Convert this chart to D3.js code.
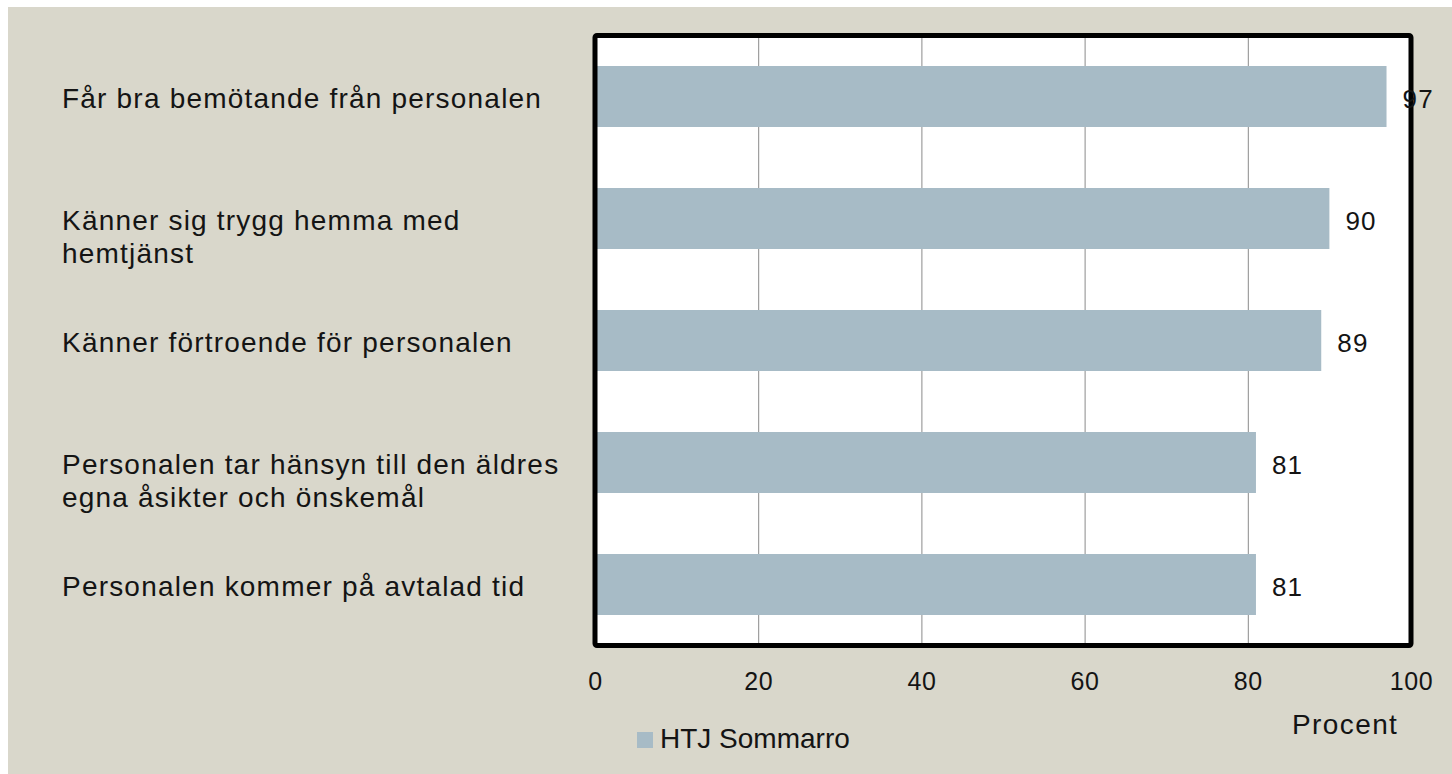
<!DOCTYPE html>
<html>
<head>
<meta charset="utf-8">
<script src="https://cdn.jsdelivr.net/npm/d3@7"></script>
<style>
  html, body { margin: 0; padding: 0; background: #ffffff; }
  svg { display: block; }
  text { font-family: "Liberation Sans", Arial, sans-serif; fill: #141414; }
</style>
</head>
<body>
<svg id="chart" width="1452" height="774"></svg>
<script>
const categories = [
  ["Får bra bemötande från personalen"],
  ["Känner sig trygg hemma med", "hemtjänst"],
  ["Känner förtroende för personalen"],
  ["Personalen tar hänsyn till den äldres", "egna åsikter och önskemål"],
  ["Personalen kommer på avtalad tid"]
];
const values = [97, 90, 89, 81, 81];
const ticks = [0, 20, 40, 60, 80, 100];
const seriesName = "HTJ Sommarro";
const axisTitle = "Procent";

const svg = d3.select("#chart");
const W = 1452, H = 774;

svg.append("rect").attr("x", 8).attr("y", 7).attr("width", W - 8).attr("height", H - 7)
  .attr("fill", "#D9D7CB");

const plot = { left: 595, right: 1411, top: 35.5, bottom: 645.5 };
const keys = categories.map((c, i) => i);

const x = d3.scaleLinear().domain([0, 100]).range([plot.left, plot.right]);
const y = d3.scaleBand().domain(keys).range([plot.top, plot.bottom])
  .paddingInner(0.5).paddingOuter(0.25);

// plot background
svg.append("rect").attr("x", plot.left).attr("y", plot.top)
  .attr("width", plot.right - plot.left).attr("height", plot.bottom - plot.top)
  .attr("fill", "#ffffff");

// gridlines
svg.append("g").selectAll("line").data(ticks.filter(t => t > 0 && t < 100)).join("line")
  .attr("x1", d => x(d) + 0.5).attr("x2", d => x(d) + 0.5)
  .attr("y1", plot.top).attr("y2", plot.bottom)
  .attr("stroke", "#8a8a8a").attr("stroke-width", 1);

// bars
svg.append("g").selectAll("rect").data(values).join("rect")
  .attr("x", x(0)).attr("y", (d, i) => y(i))
  .attr("width", d => x(d) - x(0)).attr("height", y.bandwidth())
  .attr("fill", "#A7BBC6");

// frame
svg.append("rect").attr("x", plot.left).attr("y", plot.top)
  .attr("width", plot.right - plot.left).attr("height", plot.bottom - plot.top)
  .attr("fill", "none").attr("stroke", "#000").attr("stroke-width", 5)
  .attr("rx", 2);

// x axis
const xAxis = d3.axisBottom(x).tickValues(ticks).tickSize(0).tickPadding(27)
  .tickFormat(d3.format("d"));
const gx = svg.append("g").attr("transform", `translate(0,${plot.bottom})`).call(xAxis);
gx.select(".domain").remove();
gx.selectAll("text").style("font-family", '"Liberation Sans", Arial, sans-serif')
  .style("font-size", "25px").style("letter-spacing", "0.6px").attr("fill", "#141414");

// category labels
const lab = svg.append("g").selectAll("text").data(categories).join("text")
  .attr("x", 62)
  .attr("y", (d, i) => y(i) + y.bandwidth() / 2 + 11)
  .style("font-size", "28px").style("letter-spacing", "1.2px");
lab.each(function(lines) {
  const t = d3.select(this);
  lines.forEach((ln, k) => {
    t.append("tspan").attr("x", 62).attr("dy", k === 0 ? 0 : 33).text(ln);
  });
});

// value labels
svg.append("g").selectAll("text").data(values).join("text")
  .attr("x", d => x(d) + 16)
  .attr("y", (d, i) => y(i) + y.bandwidth() / 2 + 11)
  .style("font-size", "26px").style("letter-spacing", "1.2px")
  .text(d => d);

// axis title
svg.append("text").attr("x", 1292).attr("y", 734)
  .style("font-size", "28px").style("letter-spacing", "1.4px").text(axisTitle);

// legend
svg.append("rect").attr("x", 637).attr("y", 732).attr("width", 16).attr("height", 16)
  .attr("fill", "#A7BBC6");
svg.append("text").attr("x", 660).attr("y", 748)
  .style("font-size", "28px").text(seriesName);
</script>
</body>
</html>
